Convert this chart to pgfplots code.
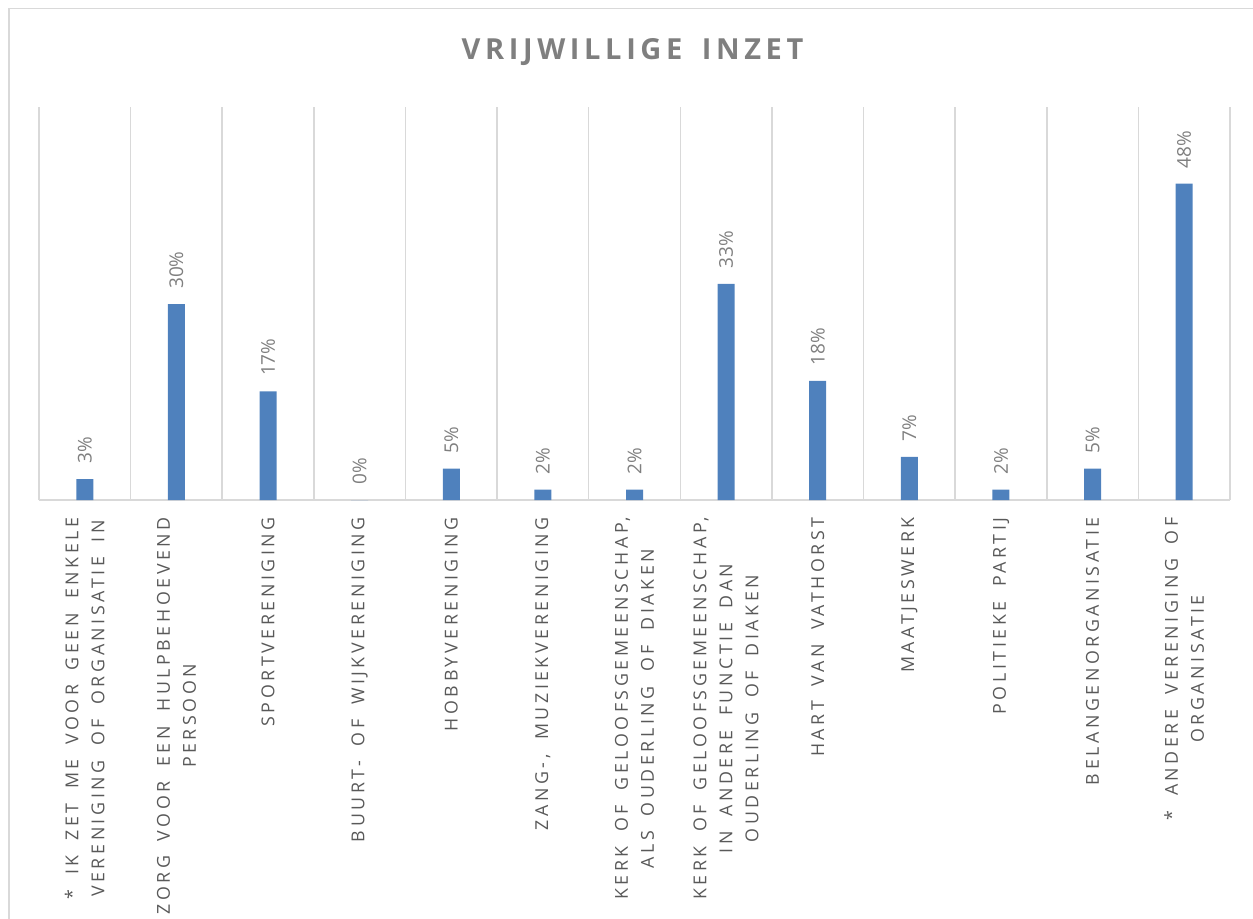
\documentclass[border=0pt]{standalone}
\usepackage{pgfplots}
\pgfplotsset{compat=1.18}
\usepackage{fontspec}
\setmainfont{Open Sans}
\newfontfamily\labfont[LetterSpace=20,WordSpace=1.8]{Open Sans}
\newfontfamily\titfont[LetterSpace=16,WordSpace=1.6]{Open Sans}
\definecolor{barblue}{HTML}{4F81BD}
\definecolor{gridgray}{HTML}{D9D9D9}
\definecolor{labgray}{HTML}{595959}
\definecolor{valgray}{HTML}{7F7F7F}
\definecolor{titgray}{HTML}{7F7F7F}
\begin{document}
\begin{tikzpicture}
\path[use as bounding box] (0,0) rectangle (626.5pt,-459.5pt);
\draw[gridgray, line width=0.6pt] (4.5pt,-700pt) -- (4.5pt,-4.2pt) -- (900pt,-4.2pt);
\node[font=\titfont\bfseries\fontsize{14.5}{16}\selectfont, text=titgray] at (316.25pt,-26pt) {VRIJWILLIGE INZET};
\begin{axis}[
  at={(19.5pt,-250pt)}, anchor=south west,
  scale only axis, width=595.5pt, height=196.5pt,
  ymin=0, ymax=60, xmin=-0.5, xmax=12.5,
  hide y axis,
  axis x line*=bottom,
  x axis line style={draw=gridgray, line width=1pt},
  ybar, bar width=8.5pt,
  /pgf/number format/assume math mode=true,
  xtick={0,...,12},
  minor xtick={-0.5,0.5,...,12.5},
  xminorgrids=true,
  minor grid style={draw=gridgray, line width=0.8pt},
  major tick length=0pt, minor tick length=0pt,
  xticklabel style={rotate=90, anchor=east, align=center,
    font=\labfont\fontsize{8.9}{13}\selectfont, text=labgray, inner xsep=8.5pt},
  xticklabels={
    {* IK ZET ME VOOR GEEN ENKELE\\VERENIGING OF ORGANISATIE IN},
    {ZORG VOOR EEN HULPBEHOEVEND\\PERSOON},
    {SPORTVERENIGING},
    {BUURT- OF WIJKVERENIGING},
    {HOBBYVERENIGING},
    {ZANG-, MUZIEKVERENIGING},
    {KERK OF GELOOFSGEMEENSCHAP,\\ALS OUDERLING OF DIAKEN},
    {KERK OF GELOOFSGEMEENSCHAP,\\IN ANDERE FUNCTIE DAN\\OUDERLING OF DIAKEN},
    {HART VAN VATHORST},
    {MAATJESWERK},
    {POLITIEKE PARTIJ},
    {BELANGENORGANISATIE},
    {* ANDERE VERENIGING OF\\ORGANISATIE}},
  nodes near coords={\pgfmathprintnumber[fixed,precision=0]{\pgfplotspointmeta}\%},
  nodes near coords style={rotate=90, anchor=west, font=\fontsize{9.5}{11}\selectfont, text=valgray, inner xsep=7.5pt},
]
\addplot[fill=barblue, draw=none] coordinates {
  (0,3.2) (1,29.9) (2,16.6) (3,0) (4,4.8) (5,1.6) (6,1.6)
  (7,33.0) (8,18.2) (9,6.6) (10,1.6) (11,4.8) (12,48.3)
};
\end{axis}
\end{tikzpicture}
\end{document}
